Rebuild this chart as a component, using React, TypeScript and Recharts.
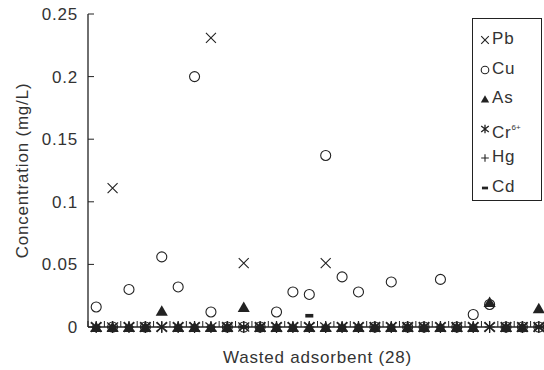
import React from "react";
import { ScatterChart, Scatter, XAxis, YAxis } from "recharts";

// 28 wasted adsorbent samples
const samples = [
  1, 2, 3, 4, 5, 6, 7, 8, 9, 10, 11, 12, 13, 14, 15, 16, 17, 18, 19, 20, 21,
  22, 23, 24, 25, 26, 27, 28,
];

// concentrations (mg/L), null = not plotted
const pb = [
  0, 0.111, 0, 0, 0, 0, 0, 0.231, 0, 0.051, 0, 0, 0, 0, 0.051, 0, 0, 0, 0, 0,
  0, 0, 0, 0, 0, 0, 0, 0,
];
const cu = [
  0.016, 0, 0.03, 0, 0.056, 0.032, 0.2, 0.012, 0, 0, 0, 0.012, 0.028, 0.026,
  0.137, 0.04, 0.028, 0, 0.036, 0, 0, 0.038, 0, 0.01, 0.018, 0, 0, 0,
];
const as = [
  0, 0, 0, 0, 0.013, 0, 0, 0, 0, 0.016, 0, 0, 0, 0, 0, 0, 0, 0, 0, 0, 0, 0,
  0, 0, 0.02, 0, 0, 0.015,
];
const cr6 = [
  0, 0, 0, 0, 0, 0, 0, 0, 0, 0, 0, 0, 0, 0, 0, 0, 0, 0, 0, 0, 0, 0, 0, 0, 0,
  0, 0, 0,
];
const hg = [
  0, 0, 0, 0, 0, 0, 0, 0, 0, 0, 0, 0, 0, 0, 0, 0, 0, 0, 0, 0, 0, 0, 0, 0, 0,
  0, 0, 0,
];
const cd = [
  0, 0, 0, 0, null, 0, 0, 0, 0, 0, 0, 0, 0, 0.009, 0, 0, 0, 0, 0, 0, 0, 0, 0,
  0, null, 0, 0, 0,
];

const yTicks = [0, 0.05, 0.1, 0.15, 0.2, 0.25];
const xTicks = [
  0.5, 1.5, 2.5, 3.5, 4.5, 5.5, 6.5, 7.5, 8.5, 9.5, 10.5, 11.5, 12.5, 13.5,
  14.5, 15.5, 16.5, 17.5, 18.5, 19.5, 20.5, 21.5, 22.5, 23.5, 24.5, 25.5,
  26.5, 27.5, 28.5,
];

const INK = "#222";
const FONT = '"Liberation Sans", Arial, sans-serif';
const Y_LABEL_GAP = 10;

const toPoints = (vals: (number | null)[]) =>
  samples
    .map((s, i) => ({ x: s, y: vals[i] }))
    .filter((p) => p.y !== null);

// marker shapes
const XMark = ({ cx, cy, s = 5 }: any) => (
  <path
    d={`M${cx - s} ${cy - s}L${cx + s} ${cy + s}M${cx - s} ${cy + s}L${cx + s} ${cy - s}`}
    stroke={INK}
    strokeWidth={1.1}
    fill="none"
  />
);
const OMark = ({ cx, cy, s = 5 }: any) => (
  <circle cx={cx} cy={cy} r={s} stroke={INK} strokeWidth={1.1} fill="none" />
);
const TriMark = ({ cx, cy, s = 5.5 }: any) => (
  <path
    d={`M${cx} ${cy - s}L${cx + s * 1.1} ${cy + s * 0.9}L${cx - s * 1.1} ${cy + s * 0.9}Z`}
    fill={INK}
  />
);
const StarMark = ({ cx, cy, s = 5.5 }: any) => (
  <path
    d={`M${cx - s} ${cy - s * 0.8}L${cx + s} ${cy + s * 0.8}M${cx - s} ${cy + s * 0.8}L${cx + s} ${cy - s * 0.8}M${cx} ${cy - s * 1.1}L${cx} ${cy + s * 1.1}`}
    stroke={INK}
    strokeWidth={1.3}
    fill="none"
  />
);
const PlusMark = ({ cx, cy, s = 5 }: any) => (
  <path
    d={`M${cx - s} ${cy}L${cx + s} ${cy}M${cx} ${cy - s}L${cx} ${cy + s}`}
    stroke={INK}
    strokeWidth={1.1}
    fill="none"
  />
);
const DashMark = ({ cx, cy, s = 5 }: any) => (
  <rect x={cx - s * 0.8} y={cy - s * 0.36} width={s * 1.6} height={s * 0.72} fill={INK} />
);

const legendItems = [
  { name: "Pb", sup: "", Shape: XMark },
  { name: "Cu", sup: "", Shape: OMark },
  { name: "As", sup: "", Shape: TriMark },
  { name: "Cr", sup: "6+", Shape: StarMark },
  { name: "Hg", sup: "", Shape: PlusMark },
  { name: "Cd", sup: "", Shape: DashMark },
];

const textStyle = { fontFamily: FONT, fontSize: 17, letterSpacing: 0.8 };

// y tick: label left of the axis, tick line pointing into the plot
const YTick = ({ x, y, payload }: any) => {
  const axisX = x + Y_LABEL_GAP;
  return (
    <g>
      <line x1={axisX} x2={axisX + 6} y1={y} y2={y} stroke={INK} />
      <text
        x={x}
        y={y}
        dy={6}
        textAnchor="end"
        fill="#333"
        style={textStyle}
      >
        {payload.value}
      </text>
    </g>
  );
};

// x tick: short line pointing up, no label
const XTick = ({ x, y }: any) => (
  <line x1={x} x2={x} y1={y} y2={y - 6} stroke={INK} />
);

const App = () => {
  return (
    <div
      style={{
        position: "absolute",
        left: 0,
        top: 0,
        width: 544,
        height: 370,
        overflow: "hidden",
        background: "#fff",
        fontFamily: FONT,
      }}
    >
      <ScatterChart
        width={547}
        height={370}
        margin={{ top: 14, right: 0, bottom: 0, left: 0 }}
      >
        <XAxis
          dataKey="x"
          type="number"
          domain={[0.5, 28.5]}
          ticks={xTicks}
          tick={<XTick />}
          tickLine={false}
          tickSize={0}
          tickMargin={0}
          interval={0}
          axisLine={{ stroke: INK, strokeWidth: 1.3 }}
          height={43}
          label={{
            value: "Wasted adsorbent (28)",
            position: "center",
            dy: 8,
            style: { ...textStyle, fill: "#333" },
          }}
        />
        <XAxis
          xAxisId="top"
          orientation="top"
          type="number"
          domain={[0.5, 28.5]}
          height={0}
          tick={false}
          tickLine={false}
          axisLine={{ stroke: INK, strokeWidth: 1.3 }}
        />
        <YAxis
          dataKey="y"
          type="number"
          domain={[0, 0.25]}
          ticks={yTicks}
          interval={0}
          width={88}
          tickSize={0}
          tickMargin={Y_LABEL_GAP}
          tickLine={false}
          axisLine={{ stroke: INK, strokeWidth: 1.3 }}
          tick={<YTick />}
          label={{
            value: "Concentration (mg/L)",
            angle: -90,
            position: "insideLeft",
            offset: 22,
            style: { ...textStyle, fill: "#333", textAnchor: "middle" },
          }}
        />
        <Scatter name="Pb" data={toPoints(pb)} shape={XMark} isAnimationActive={false} />
        <Scatter name="Cu" data={toPoints(cu)} shape={OMark} isAnimationActive={false} />
        <Scatter name="As" data={toPoints(as)} shape={TriMark} isAnimationActive={false} />
        <Scatter name="Cr6+" data={toPoints(cr6)} shape={StarMark} isAnimationActive={false} />
        <Scatter name="Hg" data={toPoints(hg)} shape={PlusMark} isAnimationActive={false} />
        <Scatter name="Cd" data={toPoints(cd)} shape={DashMark} isAnimationActive={false} />
      </ScatterChart>

      <div
        style={{
          position: "absolute",
          left: 472,
          top: 18,
          width: 70,
          height: 183,
          border: `1px solid ${INK}`,
          boxSizing: "border-box",
          background: "#fff",
        }}
      >
        {legendItems.map((item, i) => (
          <div
            key={item.name}
            style={{
              position: "absolute",
              left: 0,
              top: 9 + i * 29.6,
              height: 22,
              width: 68,
            }}
          >
            <svg
              width={12}
              height={12}
              style={{ position: "absolute", left: 6, top: 6 }}
            >
              <item.Shape cx={6} cy={6} s={3.8} />
            </svg>
            <span
              style={{
                position: "absolute",
                left: 19,
                top: 0,
                lineHeight: "22px",
                color: "#333",
                whiteSpace: "nowrap",
                ...textStyle,
              }}
            >
              {item.name}
              {item.sup && (
                <sup style={{ fontSize: 8, letterSpacing: 0, verticalAlign: 8 }}>
                  {item.sup}
                </sup>
              )}
            </span>
          </div>
        ))}
      </div>
    </div>
  );
};

export default App;
